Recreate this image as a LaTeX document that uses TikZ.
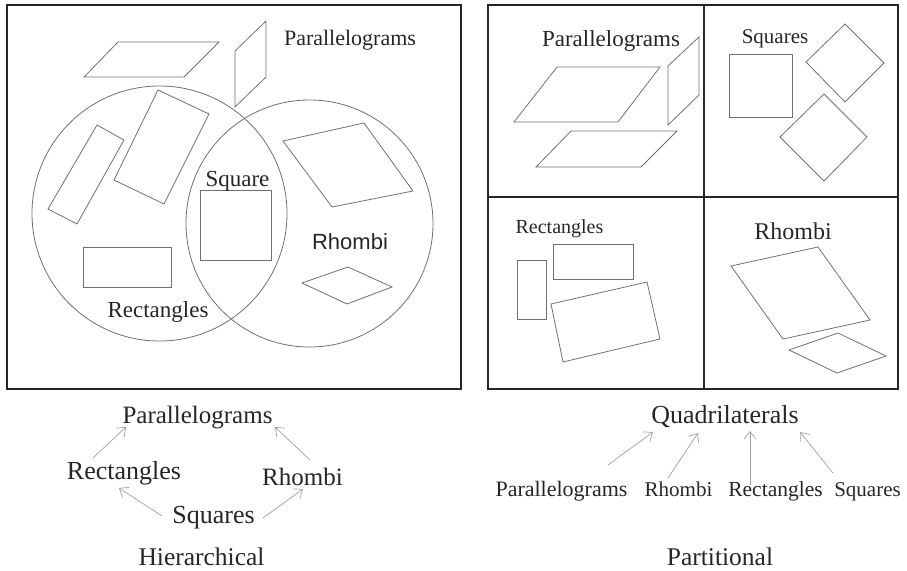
\documentclass[tikz,border=0pt]{standalone}
\usepackage{fontspec}
\setmainfont{Liberation Serif}
\newfontfamily\sansf{Liberation Sans}
\usetikzlibrary{arrows.meta}
\definecolor{shapec}{HTML}{707070}
\definecolor{arrc}{HTML}{A0A0A0}
\definecolor{txtc}{HTML}{262626}
\newcommand{\fs}[1]{\fontsize{#1}{#1}\selectfont}
\begin{document}
\begin{tikzpicture}[x=1pt,y=-1pt,
  frame/.style={draw=black!85,line width=2pt},
  shp/.style={draw=shapec,line width=0.8pt,line join=miter},
  lbl/.style={anchor=base,inner sep=0pt,text=txtc},
  arr/.style={draw=arrc,line width=0.7pt,-{Straight Barb[length=7.5pt,width=12pt]}}]
\useasboundingbox (0,0) rectangle (907,570);
% frames
\draw[frame] (7,5) rectangle (461,389);
\draw[frame] (488,5) rectangle (898,389);
\draw[frame] (704,5) -- (704,389);
\draw[frame] (488,197) -- (898,197);
% ---------- left Venn panel ----------
\draw[shp] (84,77) -- (118,42) -- (219,42) -- (184,77) -- cycle;
\draw[shp] (235,51) -- (266,21) -- (266,77) -- (235,107) -- cycle;
\draw[shp] (159.5,213.5) circle (127.5);
\draw[shp] (309.5,223.5) circle (123.5);
\draw[shp] (48,209) -- (97,125) -- (124,140) -- (77,224) -- cycle;
\draw[shp] (114,180) -- (158,90) -- (209,114) -- (164,204) -- cycle;
\draw[shp] (200,190) rectangle (271,260);
\draw[shp] (83,247) rectangle (171,287);
\draw[shp] (283,141) -- (364,123) -- (413,191) -- (332,207) -- cycle;
\draw[shp] (302,283) -- (348,267) -- (392,287) -- (347,304) -- cycle;
\node[lbl,font=\fs{22}] (vpar) at (350,45) {Parallelograms};
\node[lbl,font=\fs{23}] (vsq) at (237.5,186) {Square};
\node[lbl,font=\sansf\fs{22}] (vrho) at (350,249) {Rhombi};
\node[lbl,font=\fs{23}] (vrect) at (158,317) {Rectangles};
% ---------- right partition panel ----------
\draw[shp] (514,122) -- (557,67) -- (660,67) -- (618,122) -- cycle;
\draw[shp] (668,66) -- (699,37) -- (699,95) -- (668,125) -- cycle;
\draw[shp] (536,167) -- (571,131) -- (677,131) -- (641,167) -- cycle;
\draw[shp] (729,54) rectangle (792,117);
\draw[shp] (806,62) -- (845,24) -- (884,63) -- (845,102) -- cycle;
\draw[shp] (780,137) -- (824,94) -- (867,137) -- (824,181) -- cycle;
\draw[shp] (517,260) rectangle (546,319);
\draw[shp] (553,244) rectangle (633,279);
\draw[shp] (551,304) -- (647,282) -- (660,339) -- (563,362) -- cycle;
\draw[shp] (731,266) -- (818,247) -- (870,320) -- (783,339) -- cycle;
\draw[shp] (789,350) -- (838,333) -- (886,356) -- (837,373) -- cycle;
\node[lbl,font=\fs{23}] (ppar) at (611,46) {Parallelograms};
\node[lbl,font=\fs{21}] (psq) at (775,43) {Squares};
\node[lbl,font=\fs{20}] (prect) at (559.5,233) {Rectangles};
\node[lbl,font=\fs{24}] (prho) at (793,239) {Rhombi};
% ---------- hierarchical graph ----------
\node[lbl,font=\fs{25}] (parB) at (197.5,423) {Parallelograms};
\node[lbl,font=\fs{26}] (rectB) at (124,479) {Rectangles};
\node[lbl,font=\fs{25}] (rhoB) at (302.5,485) {Rhombi};
\node[lbl,font=\fs{26}] (sqB) at (213.5,523) {Squares};
\node[lbl,font=\fs{25.5}] (hier) at (201.5,565) {Hierarchical};
\draw[arr] ([shift={(-31,-21)}]rectB.base) -- ([shift={(-71.5,4)}]parB.base);
\draw[arr] ([shift={(7.5,-25)}]rhoB.base) -- ([shift={(77.5,4)}]parB.base);
\draw[arr] ([shift={(-51.5,-7)}]sqB.base) -- ([shift={(-5,9)}]rectB.base);
\draw[arr] ([shift={(49.5,-5)}]sqB.base) -- ([shift={(0.5,4)}]rhoB.base);
% ---------- partitional graph ----------
\node[lbl,font=\fs{26}] (quad) at (725,423) {Quadrilaterals};
\node[lbl,font=\fs{22}] (parP) at (561.5,496) {Parallelograms};
\node[lbl,font=\fs{21}] (rhoP) at (678.5,496) {Rhombi};
\node[lbl,font=\fs{21.5}] (rectP) at (775.5,496) {Rectangles};
\node[lbl,font=\fs{21}] (sqP) at (867.5,496) {Squares};
\node[lbl,font=\fs{25.5}] (part) at (720,565) {Partitional};
\draw[arr] ([shift={(46.5,-31)}]parP.base) -- ([shift={(-72,9)}]quad.base);
\draw[arr] ([shift={(-10.5,-18)}]rhoP.base) -- ([shift={(-27,10)}]quad.base);
\draw[arr] ([shift={(-25.5,-11)}]rectP.base) -- ([shift={(25,8)}]quad.base);
\draw[arr] ([shift={(-34.5,-23)}]sqP.base) -- ([shift={(75,9)}]quad.base);
\end{tikzpicture}
\end{document}
